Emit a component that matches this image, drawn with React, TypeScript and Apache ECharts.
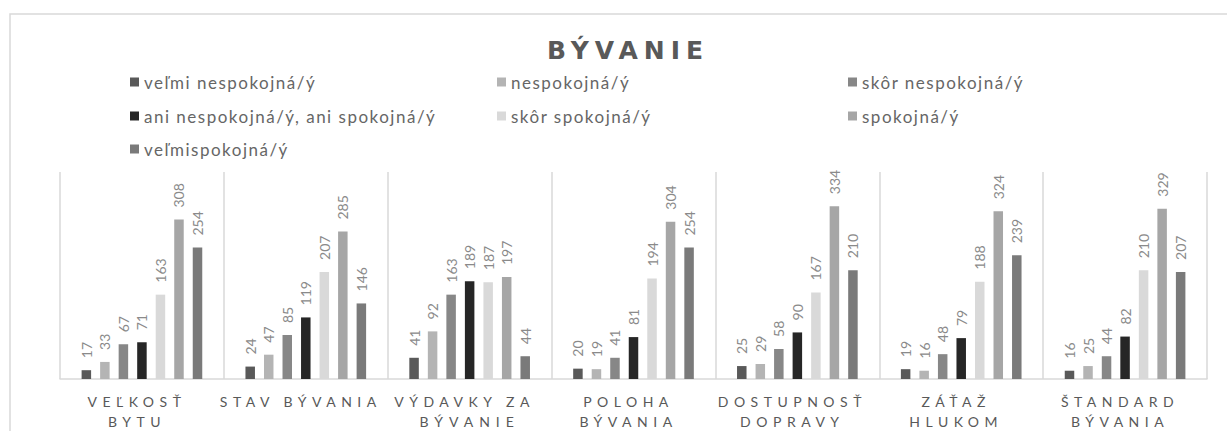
import React, { useEffect, useRef } from "react";
import * as echarts from "echarts";

const titleText = "BÝVANIE";

const categories = [
  "VEĽKOSŤ BYTU",
  "STAV BÝVANIA",
  "VÝDAVKY ZA BÝVANIE",
  "POLOHA BÝVANIA",
  "DOSTUPNOSŤ DOPRAVY",
  "ZÁŤAŽ HLUKOM",
  "ŠTANDARD BÝVANIA",
];

const tickLabels = [
  "VEĽKOSŤ\nBYTU",
  "STAV BÝVANIA",
  "VÝDAVKY ZA\nBÝVANIE",
  "POLOHA\nBÝVANIA",
  "DOSTUPNOSŤ\nDOPRAVY",
  "ZÁŤAŽ\nHLUKOM",
  "ŠTANDARD\nBÝVANIA",
];

const seriesNames = [
  "veľmi nespokojná/ý",
  "nespokojná/ý",
  "skôr nespokojná/ý",
  "ani nespokojná/ý, ani spokojná/ý",
  "skôr spokojná/ý",
  "spokojná/ý",
  "veľmispokojná/ý",
];

const veryDissatisfied = [17, 24, 41, 20, 25, 19, 16];
const dissatisfied = [33, 47, 92, 19, 29, 16, 25];
const ratherDissatisfied = [67, 85, 163, 41, 58, 48, 44];
const neutral = [71, 119, 189, 81, 90, 79, 82];
const ratherSatisfied = [163, 207, 187, 194, 167, 188, 210];
const satisfied = [308, 285, 197, 304, 334, 324, 329];
const verySatisfied = [254, 146, 44, 254, 210, 239, 207];

const seriesValues = [
  veryDissatisfied,
  dissatisfied,
  ratherDissatisfied,
  neutral,
  ratherSatisfied,
  satisfied,
  verySatisfied,
];

const seriesColors = ["#595959", "#b4b4b4", "#878787", "#262626", "#d9d9d9", "#a6a6a6", "#7a7a7a"];

const legendCols = [130, 497, 848];
const legendRows = [82, 116, 149];

const TITLE_SPACING = 6;
const CAT_SPACING = 5.5;
const CAT_SHIFT = -5;
const LEGEND_SPACING = 1.5;

export default function App() {
  const ref = useRef<HTMLDivElement>(null);

  useEffect(() => {
    document.body.style.margin = "0";
    const el = ref.current!;
    const chart = echarts.init(el, null, { renderer: "svg" });

    const labelLines = new Set<string>();
    tickLabels.forEach((l) => l.split("\n").forEach((p) => labelLines.add(p)));

    const option: any = {
      animation: false,
      backgroundColor: "#ffffff",
      grid: { left: 60, right: 20, top: 172, bottom: 51, containLabel: false },
      legend: seriesNames.map((name, i) => ({
        data: [name],
        left: legendCols[i % 3],
        top: legendRows[Math.floor(i / 3)] - 9,
        padding: 0,
        icon: "rect",
        itemWidth: 9,
        itemHeight: 9,
        selectedMode: false,
        textStyle: {
          fontFamily: "Lato",
          fontWeight: "normal",
          fontSize: 17,
          lineHeight: 18,
          color: "#666666",
        },
      })),
      xAxis: {
        type: "category",
        data: categories,
        axisTick: { show: false },
        axisLine: { lineStyle: { color: "#d9d9d9", width: 1.5 } },
        splitLine: { show: true, lineStyle: { color: "#d9d9d9", width: 1.5 } },
        axisLabel: {
          interval: 0,
          formatter: (_v: string, i: number) => tickLabels[i],
          fontFamily: "Lato",
          fontSize: 14,
          lineHeight: 20,
          color: "#595959",
          margin: 12,
        },
      },
      yAxis: {
        type: "value",
        min: 0,
        max: 400,
        show: false,
        splitLine: { show: false },
      },
      graphic: [
        {
          type: "rect",
          silent: true,
          shape: { x: 10, y: 14, width: 1400, height: 700 },
          style: { fill: "none", stroke: "#d9d9d9", lineWidth: 1.5 },
        },
        {
          type: "text",
          silent: true,
          x: 625 + TITLE_SPACING / 2,
          y: 50,
          style: {
            text: titleText,
            fill: "#595959",
            fontFamily: "DejaVu Sans",
            fontWeight: "bold",
            fontSize: 25,
            align: "center",
            verticalAlign: "middle",
          },
        },
      ],
      series: seriesNames.map((name, i) => ({
        name,
        type: "bar",
        data: seriesValues[i],
        barWidth: 9.5,
        barGap: "95%",
        itemStyle: { color: seriesColors[i] },
        label: {
          show: true,
          position: "top",
          rotate: 90,
          align: "left",
          verticalAlign: "middle",
          distance: 12,
          fontFamily: "Lato",
          fontSize: 14,
          color: "#8a8a8a",
        },
      })),
    };

    const applySpacing = () => {
      el.querySelectorAll("text").forEach((t) => {
        const s = t.textContent || "";
        if (s === titleText) {
          t.style.letterSpacing = TITLE_SPACING + "px";
        } else if (labelLines.has(s)) {
          t.style.letterSpacing = CAT_SPACING + "px";
          t.setAttribute("dx", String(CAT_SHIFT));
        } else if (seriesNames.includes(s)) {
          t.style.letterSpacing = LEGEND_SPACING + "px";
        }
      });
    };

    chart.on("finished", applySpacing);
    chart.setOption(option);
    applySpacing();
    const raf = requestAnimationFrame(applySpacing);

    return () => {
      cancelAnimationFrame(raf);
      chart.dispose();
    };
  }, []);

  return <div ref={ref} style={{ width: 1227, height: 431 }} />;
}
